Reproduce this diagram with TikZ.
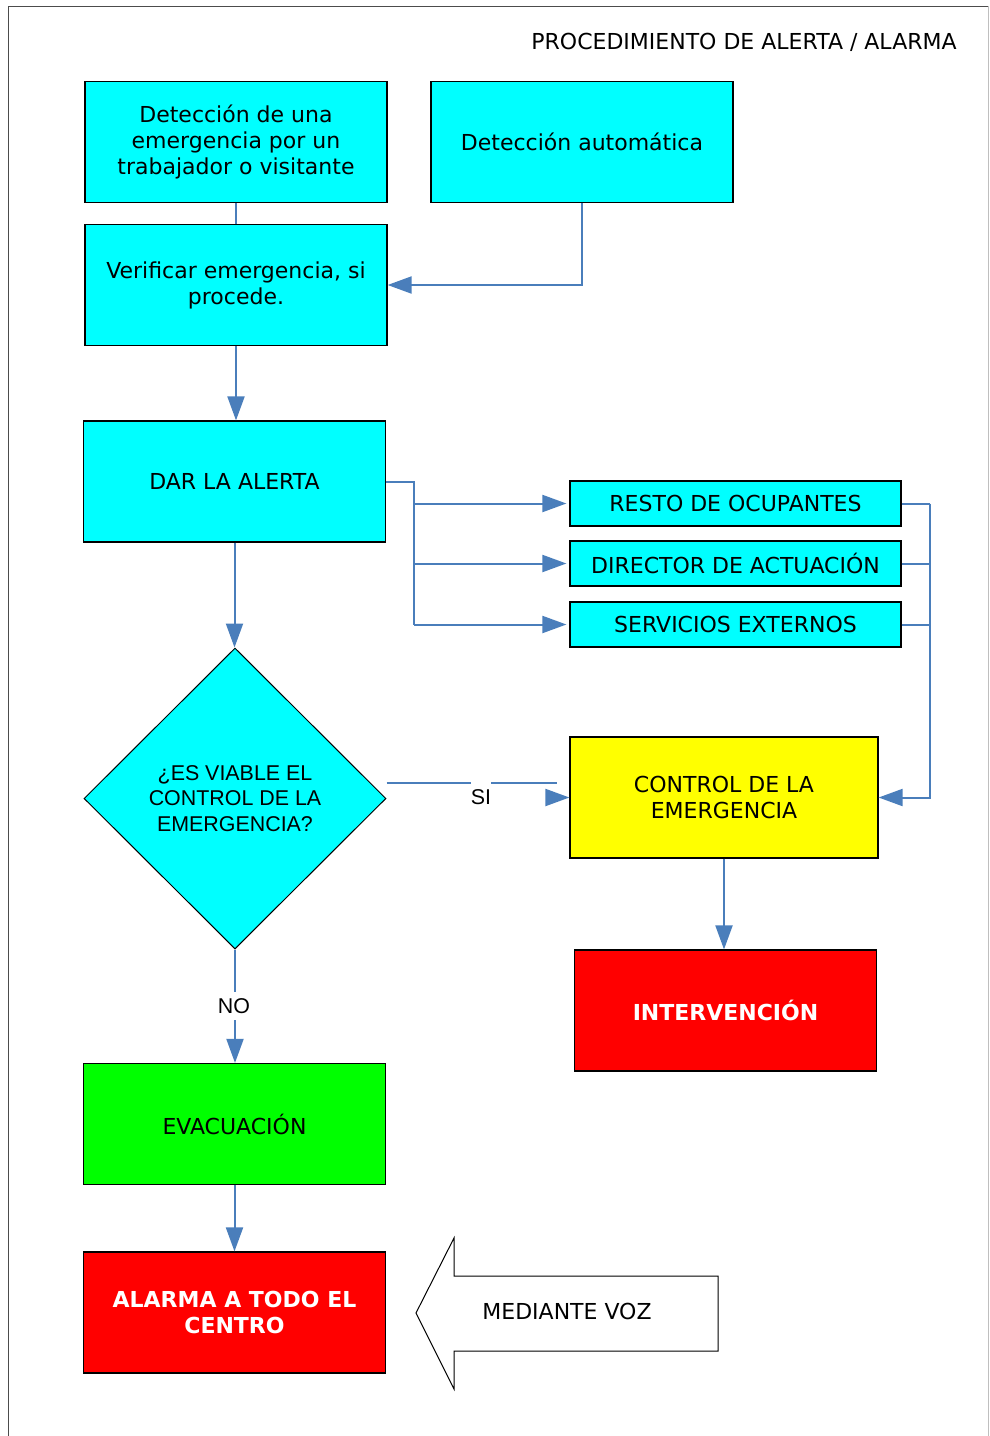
\documentclass[tikz,border=0pt]{standalone}
\usepackage{fontspec}
\setmainfont{DejaVu Sans}
\newfontfamily\arialfont{Liberation Sans}
\usetikzlibrary{shapes.geometric,arrows.meta}

\definecolor{flujo}{RGB}{74,126,187}
\definecolor{celeste}{RGB}{0,255,255}
\definecolor{amarillo}{RGB}{255,255,0}
\definecolor{verde}{RGB}{0,255,0}
\definecolor{rojo}{RGB}{255,0,0}

\begin{document}
\begin{tikzpicture} [x=0.5pt,y=-0.5pt,
			texto/.style={font=\fontsize{11}{13}\selectfont},
			caja/.style={draw=black,line width=0.6pt,fill=celeste,align=center,inner sep=0pt,
				texto,minimum width=151pt,minimum height=60.5pt},
			caja baja/.style={caja,minimum width=165.5pt,minimum height=22.5pt},
			aviso/.style={caja,fill=rojo,text=white,font=\fontsize{11}{13}\selectfont\bfseries},
			pregunta/.style={diamond,aspect=1,draw=black,line width=0.5pt,fill=celeste,inner sep=0pt,
				align=center,minimum width=151pt,minimum height=150.5pt,
				font=\arialfont\fontsize{10.7}{12.8}\selectfont},
			linea/.style={draw=flujo,line width=1pt},
			flecha/.style={linea,-{Triangle[length=12pt,width=8.5pt]}},
			rotulo/.style={fill=white,font=\arialfont\fontsize{10.7}{13}\selectfont}]

		\useasboundingbox (0,0) rectangle (990,1436);

		% marco de la pagina
		\draw [black!70,line width=0.5pt] (8,1436) -- (8,6) -- (988,6);
		\draw [black!25,line width=0.5pt] (988,6) -- (988,1436);

		\node [texto, anchor=base east, inner sep=0pt] (titulo) at (957,49) {PROCEDIMIENTO DE ALERTA / ALARMA};

		\node [caja] (deteccion) at (236,142) {Detección de una\\emergencia por un\\trabajador o visitante};
		\node [caja] (automatica) at (582,142) {Detección automática};
		\node [caja] (verificar) at (236,285) {Verificar emergencia, si\\procede.};
		\node [caja] (alerta) at (234.5,481.5) {DAR LA ALERTA};

		\node [caja baja] (resto) at (735.5,503.5) {RESTO DE OCUPANTES};
		\node [caja baja] (director) at (735.5,563.5) {DIRECTOR DE ACTUACIÓN};
		\node [caja baja] (servicios) at (735.5,624.5) {SERVICIOS EXTERNOS};

		\node [pregunta] (viable) at (235,798.5) {¿ES VIABLE EL\\CONTROL DE LA\\EMERGENCIA?};
		\node [caja, fill=amarillo, minimum width=154pt] (control) at (724,797.5) {CONTROL DE LA\\EMERGENCIA};
		\node [aviso] (intervencion) at (725.5,1010.5) {INTERVENCIÓN};
		\node [caja, fill=verde] (evacuacion) at (234.5,1124) {EVACUACIÓN};
		\node [aviso] (alarma) at (234.5,1312.5) {ALARMA A TODO EL\\CENTRO};

		% flecha grande
		\draw [black,line width=0.5pt] (416,1313) -- (454,1238) -- (454,1276) -- (718,1276)
			-- (718,1351) -- (454,1351) -- (454,1389) -- cycle;
		\node [texto] (voz) at (567,1311) {MEDIANTE VOZ};

		% conexiones
		\draw [linea] (deteccion) -- (verificar);
		\draw [flecha] (automatica) |- (verificar);
		\draw [flecha] (verificar.south) -- (verificar.south |- alerta.north);
		\draw [flecha] (alerta) -- (alerta |- viable.north);

		\coordinate (reparto) at (414,481.5);
		\draw [linea] (alerta.east) -- (reparto) -- (reparto |- servicios);
		\foreach \destino in {resto,director,servicios}
			\draw [flecha, shorten >=1.5pt] (reparto |- \destino) -- (\destino.west);

		\coordinate (retorno) at (930,797.5);
		\foreach \origen in {resto,director,servicios}
			\draw [linea] (\origen.east) -- (retorno |- \origen);
		\draw [flecha] (retorno |- resto) -- (retorno) -- (control.east);

		\draw [linea] ([yshift=8pt]viable.east) -- ++(170,0);
		\draw [flecha] ([xshift=-11pt]control.west) -- (control.west);
		\node [rotulo, inner xsep=0pt, inner ysep=5.5pt] (si) at (481,797) {SI};

		\draw [flecha] (viable.south) -- (viable.south |- evacuacion.north);
		\node [rotulo, inner sep=3pt] (no) at (234,1006) {NO};

		\draw [flecha] (control.south) -- (control.south |- intervencion.north);
		\draw [flecha] (evacuacion) -- (alarma);

		\end{tikzpicture}
\end{document}
